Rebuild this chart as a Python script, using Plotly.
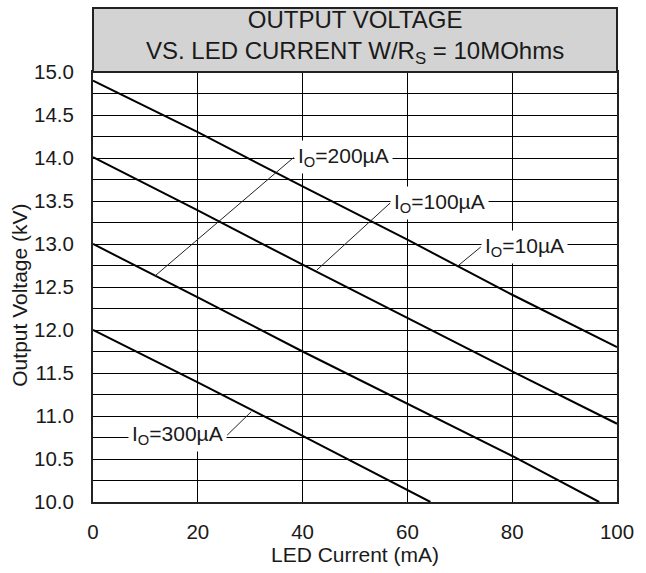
import plotly.graph_objects as go

# ---- data ----
led_current_10 = [0, 20, 40, 60, 80, 100]
vout_10 = [14.90, 14.30, 13.67, 13.05, 12.41, 11.80]

led_current_100 = [0, 20, 40, 60, 80, 100]
vout_100 = [14.01, 13.39, 12.76, 12.14, 11.52, 10.91]

led_current_200 = [0, 20, 40, 60, 80, 96.6]
vout_200 = [13.00, 12.38, 11.75, 11.14, 10.535, 10.00]

led_current_300 = [0, 20, 40, 60, 64.4]
vout_300 = [12.00, 11.39, 10.77, 10.14, 10.00]

series_names = ["I<sub>O</sub>=10µA", "I<sub>O</sub>=100µA", "I<sub>O</sub>=200µA", "I<sub>O</sub>=300µA"]

x_tickvals = [0, 20, 40, 60, 80, 100]
y_tickvals = [10.0 + 0.25 * i for i in range(21)]
y_ticktext = [f"{v:.1f}" if abs((v * 2) - round(v * 2)) < 1e-9 else "" for v in y_tickvals]

# label anchors (tail) and curve points (head) for the leader lines
label_tail_x = [74.0, 56.7, 38.3, 25.6]
label_tail_y = [12.965, 13.476, 14.006, 10.777]
label_head_x = [69.8, 42.7, 11.85, 30.2]
label_head_y = [12.754, 12.696, 12.63, 11.05]
label_anchor = ["left", "left", "left", "right"]

FONT = "Liberation Sans, Arial, Helvetica, sans-serif"
INK = "#1a1a1a"

fig = go.Figure()
for xs, ys in [(led_current_10, vout_10), (led_current_100, vout_100),
               (led_current_200, vout_200), (led_current_300, vout_300)]:
    fig.add_trace(go.Scatter(x=xs, y=ys, mode="lines",
                             line=dict(color="black", width=2),
                             showlegend=False, hoverinfo="skip"))

for name, tx, ty, hx, hy, anc in zip(series_names, label_tail_x, label_tail_y,
                                     label_head_x, label_head_y, label_anchor):
    fig.add_annotation(x=hx, y=hy, ax=tx, ay=ty, xref="x", yref="y",
                       axref="x", ayref="y", text=name, showarrow=True,
                       arrowhead=0, arrowwidth=1, arrowcolor="#222",
                       xanchor=anc, yanchor="middle",
                       bgcolor="white", borderpad=3,
                       font=dict(family=FONT, size=21, color=INK))

# title box
fig.add_shape(type="rect", xref="paper", yref="paper", x0=0, x1=1, y0=1, y1=1.149,
              fillcolor="#d3d3d3", line=dict(color="#222", width=2), layer="above")
fig.add_annotation(xref="paper", yref="paper", x=0.5, y=1.081, showarrow=False,
                   text="OUTPUT VOLTAGE<br>VS. LED CURRENT W/R<sub>S</sub> = 10MOhms",
                   xanchor="center", yanchor="middle",
                   font=dict(family=FONT, size=24, color=INK))

# y-axis title (placed slightly below the axis middle, as in the reference)
fig.add_annotation(xref="paper", yref="y", x=-0.141, y=12.4, showarrow=False,
                   text="Output Voltage (kV)", textangle=-90,
                   xanchor="center", yanchor="middle",
                   font=dict(family=FONT, size=21, color=INK))

fig.update_xaxes(range=[0, 100], tickvals=x_tickvals, showgrid=True,
                 gridcolor="black", gridwidth=1, zeroline=False,
                 showline=True, mirror=True, linecolor="#222", linewidth=2,
                 ticks="", ticklabelstandoff=10,
                 tickfont=dict(family=FONT, size=20.5, color=INK),
                 title=dict(text="LED Current (mA)", standoff=4,
                            font=dict(family=FONT, size=21, color=INK)))
fig.update_yaxes(range=[10, 15], tickvals=y_tickvals, ticktext=y_ticktext,
                 showgrid=True, gridcolor="black", gridwidth=1, zeroline=False,
                 showline=True, mirror=True, linecolor="#222", linewidth=2,
                 ticks="", ticklabelstandoff=13,
                 tickfont=dict(family=FONT, size=20.5, color=INK))

fig.update_layout(width=646, height=573,
                  margin=dict(l=93, r=18, t=72, b=67),
                  paper_bgcolor="white", plot_bgcolor="white",
                  font=dict(family=FONT, color=INK))

fig.write_html("out.html", config={"displayModeBar": False},
               post_script="document.body.style.margin='0';document.body.style.overflow='hidden';")
